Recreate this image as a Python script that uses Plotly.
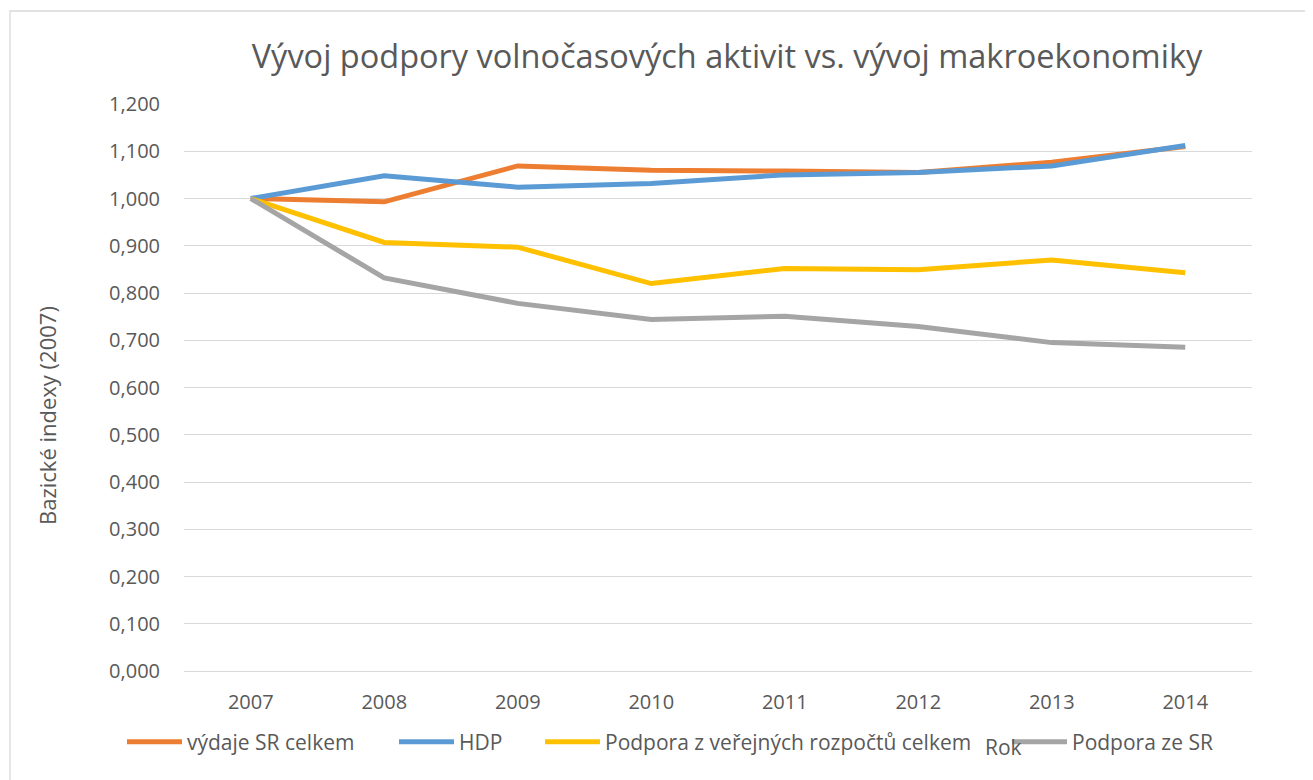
import plotly.graph_objects as go

years = ["2007", "2008", "2009", "2010", "2011", "2012", "2013", "2014"]
vydaje_sr = [1.000, 0.993, 1.069, 1.060, 1.058, 1.055, 1.077, 1.110]
hdp = [1.000, 1.048, 1.024, 1.032, 1.050, 1.055, 1.069, 1.112]
podpora_verejne = [1.000, 0.907, 0.897, 0.820, 0.852, 0.849, 0.870, 0.843]
podpora_sr = [1.000, 0.832, 0.778, 0.744, 0.751, 0.729, 0.695, 0.685]

series = [
    ("výdaje SR celkem", vydaje_sr, "#ED7D31", "legend", 114),
    ("HDP", hdp, "#5B9BD5", "legend2", 386),
    ("Podpora z veřejných rozpočtů celkem", podpora_verejne, "#FFC000", "legend3", 532),
    ("Podpora ze SR", podpora_sr, "#A5A5A5", "legend4", 999),
]

FONT = "Open Sans"
TXT = "#595959"
W, H = 1313, 780
OFF = 8  # page offset of the figure (body margin)
L, R, T, B = 184 - OFF, 69, 104 - OFF, 117
PW, PH = W - L - R, H - T - B


def px_x(px):
    return (px - OFF - L) / PW


def px_y(py):
    return (H - B - (py - OFF)) / PH


fig = go.Figure()
for name, vals, col, lg, _ in series:
    fig.add_trace(go.Scatter(
        x=years, y=vals, name=name, mode="lines",
        line=dict(color=col, width=5),
        legend=lg, showlegend=True,
    ))

layout = dict(
    width=W, height=H,
    margin=dict(l=L, r=R, t=T, b=B, autoexpand=False),
    paper_bgcolor="white", plot_bgcolor="white",
    font=dict(family=FONT, color=TXT, size=20),
    separators=",.",
    showlegend=True,
    title=dict(
        text="Vývoj podpory volnočasových aktivit vs. vývoj makroekonomiky",
        font=dict(family=FONT, size=32.5, color=TXT),
        x=(727 - OFF) / W, xref="container", xanchor="center",
        y=1 - (57 - OFF) / H, yref="container", yanchor="middle",
    ),
    xaxis=dict(
        type="category", range=[-0.5, 7.5],
        showgrid=False, showline=False, zeroline=False,
        ticks="", ticklabelstandoff=17, automargin=False,
        tickfont=dict(size=20, color=TXT),
    ),
    yaxis=dict(
        range=[0, 1.2], tick0=0, dtick=0.1,
        tickformat=",.3f", automargin=False,
        showgrid=True, gridcolor="#D9D9D9", gridwidth=1.3,
        zeroline=True, zerolinecolor="#D9D9D9", zerolinewidth=1.3,
        showline=False, ticks="", ticklabelstandoff=23,
        tickfont=dict(size=20, color=TXT),
    ),
)

for name, vals, col, lg, px in series:
    layout[lg] = dict(
        x=px / W, xref="container", xanchor="left",
        y=1 - (742 - OFF) / H, yref="container", yanchor="middle",
        orientation="h", bgcolor="rgba(0,0,0,0)",
        font=dict(family=FONT, size=21, color=TXT),
        itemwidth=55, tracegroupgap=0,
    )

fig.update_layout(**layout)

fig.add_shape(
    type="rect", xref="paper", yref="paper",
    x0=px_x(10), x1=px_x(1340), y0=px_y(820), y1=px_y(11),
    line=dict(color="#D9D9D9", width=1.3), fillcolor="rgba(0,0,0,0)", layer="below",
)

fig.add_annotation(
    text="Bazické indexy (2007)", textangle=-90,
    x=px_x(47), y=px_y(416), xref="paper", yref="paper",
    xanchor="center", yanchor="middle",
    showarrow=False, font=dict(family=FONT, size=22, color=TXT),
)
fig.add_annotation(
    text="Rok",
    x=px_x(1003), y=px_y(747), xref="paper", yref="paper",
    xanchor="center", yanchor="middle",
    showarrow=False, font=dict(family=FONT, size=21, color=TXT),
)

fig.write_html("out.html")
